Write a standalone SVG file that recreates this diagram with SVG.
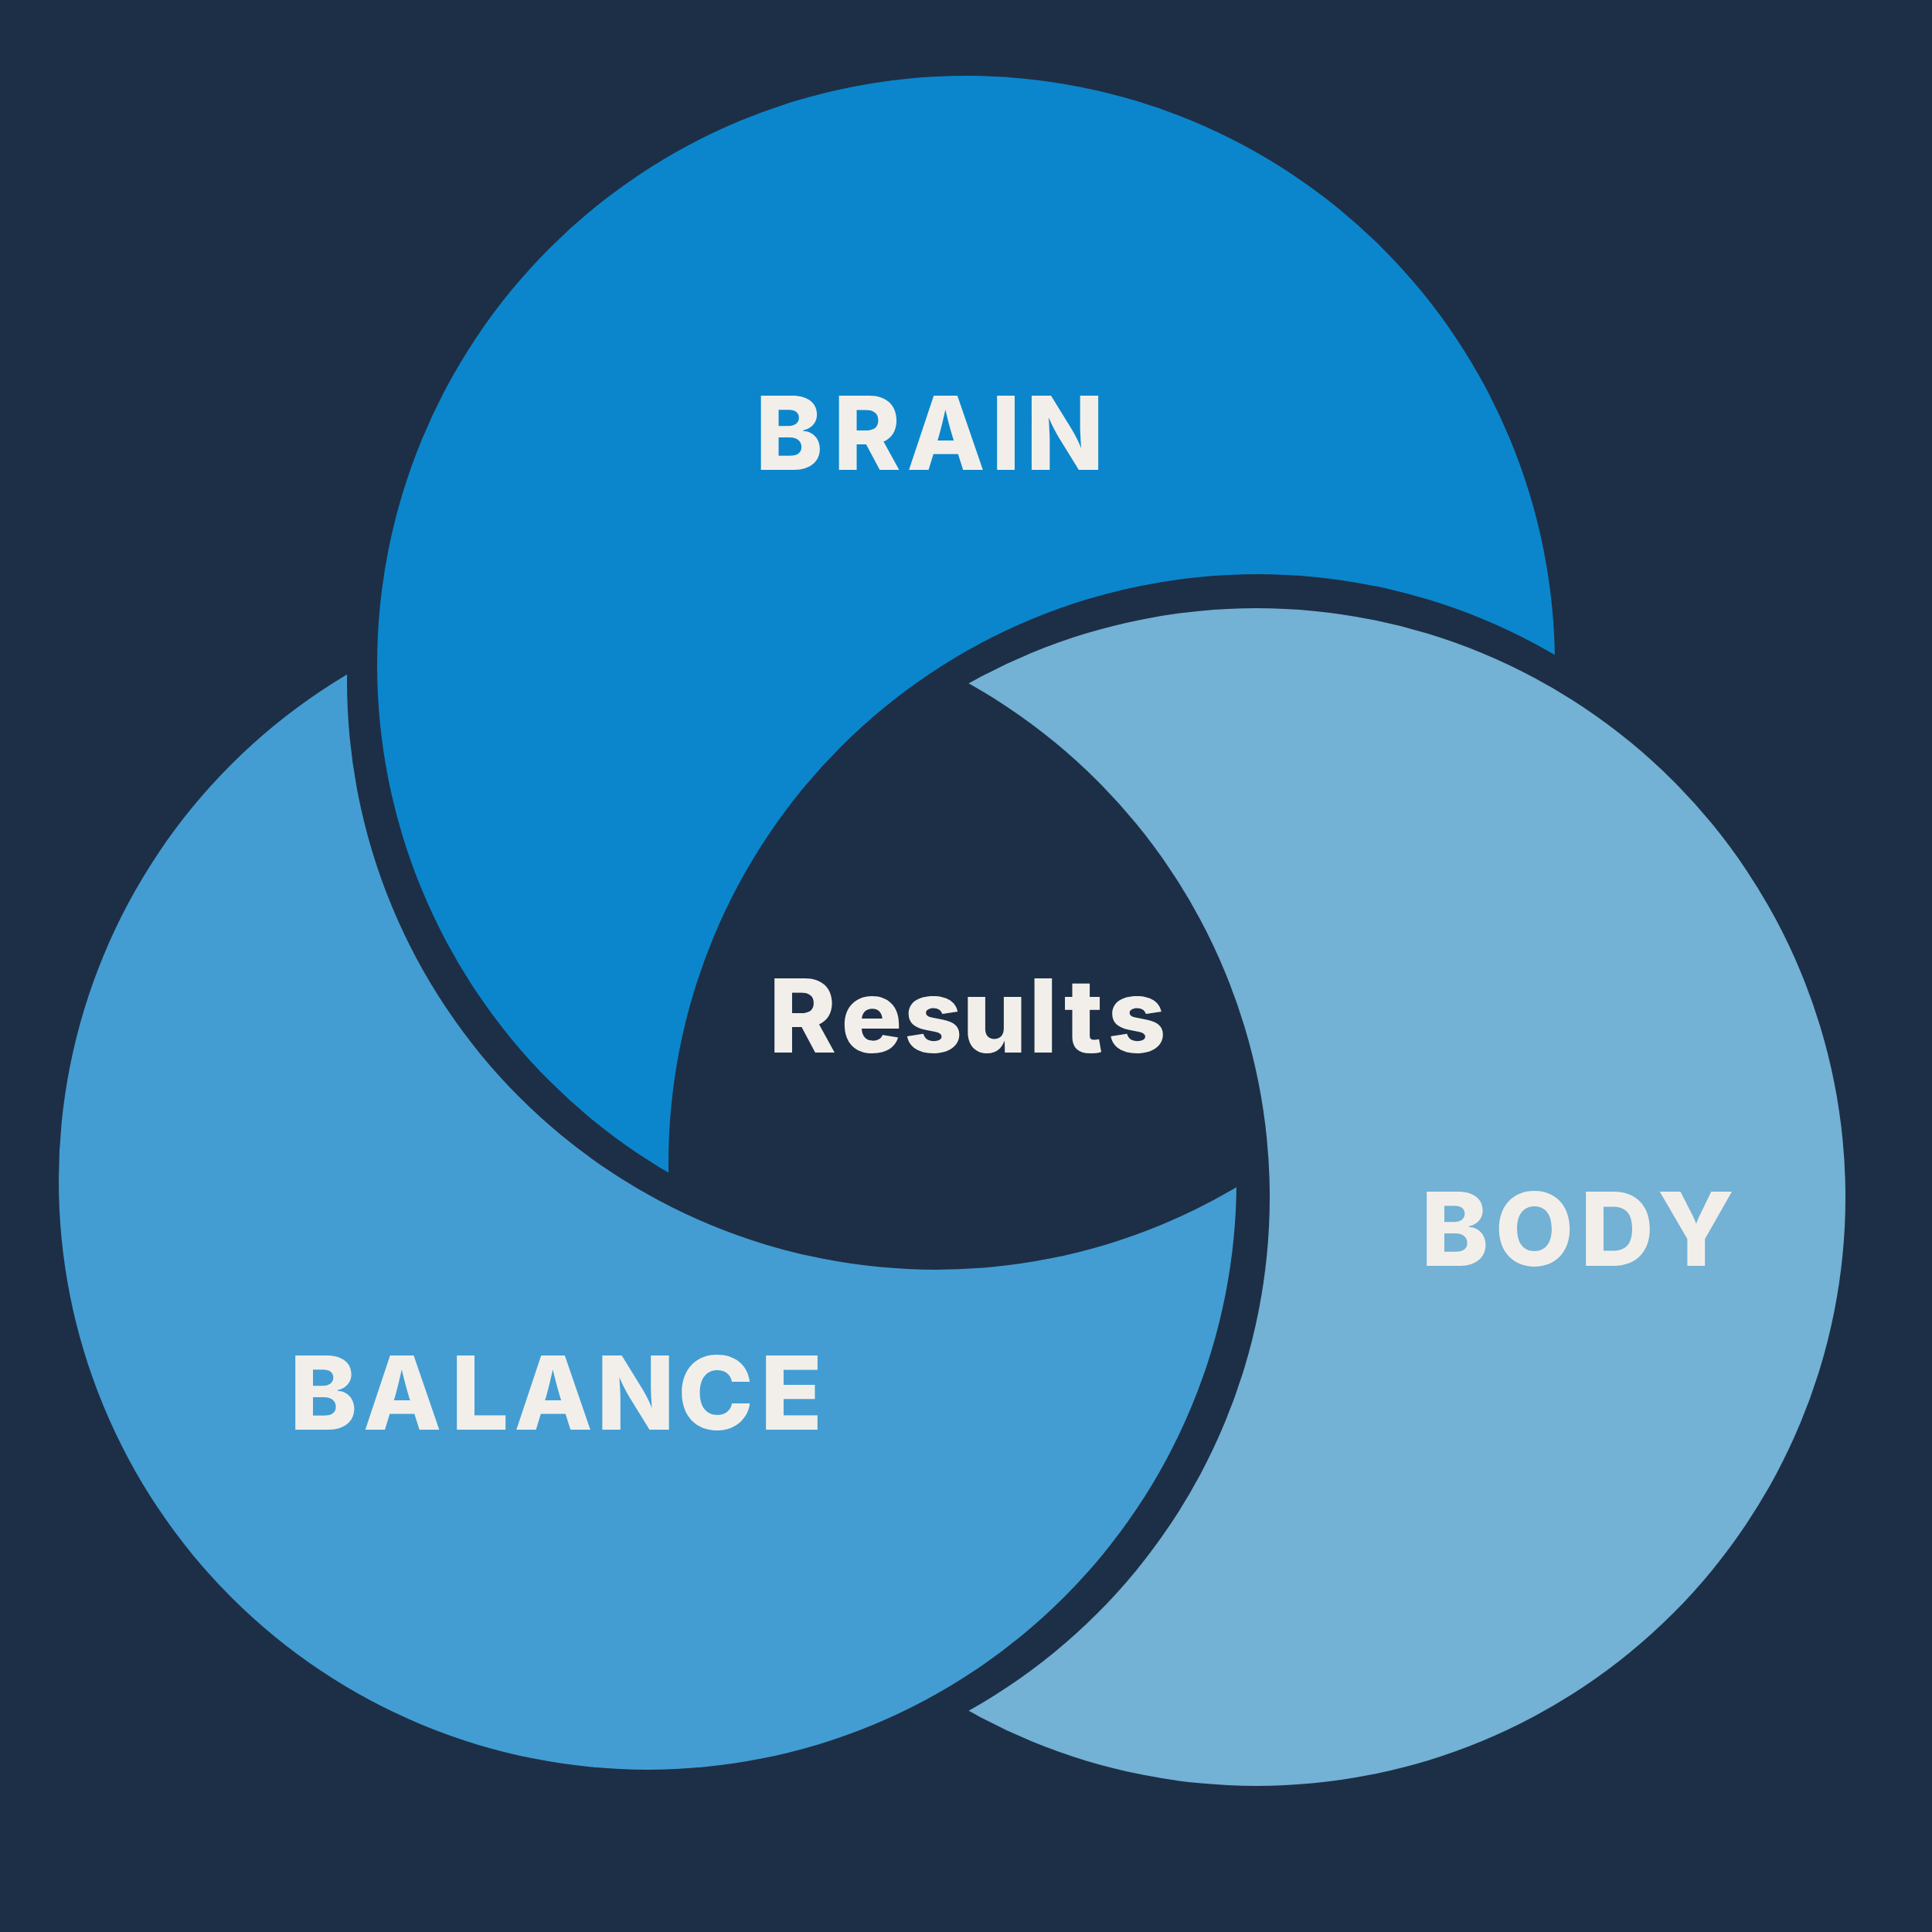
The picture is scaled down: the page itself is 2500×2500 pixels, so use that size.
<svg xmlns="http://www.w3.org/2000/svg" width="2500" height="2500" viewBox="0 0 2500 2500">
  <style>
    .lbl { font-family: Inter, "Open Sans", "Liberation Sans", sans-serif; font-weight: 800; font-size: 132px; fill: #F2EFEA; text-anchor: middle; }
  </style>
  <defs>
    <mask id="cutBrain" maskUnits="userSpaceOnUse" x="0" y="0" width="2500" height="2500">
      <rect x="0" y="0" width="2500" height="2500" fill="#fff"/>
      <circle cx="1627" cy="1505" r="762" fill="#000"/>
    </mask>
    <mask id="cutBody" maskUnits="userSpaceOnUse" x="0" y="0" width="2500" height="2500">
      <rect x="0" y="0" width="2500" height="2500" fill="#fff"/>
      <circle cx="881" cy="1549" r="762" fill="#000"/>
    </mask>
    <mask id="cutBalance" maskUnits="userSpaceOnUse" x="0" y="0" width="2500" height="2500">
      <rect x="0" y="0" width="2500" height="2500" fill="#fff"/>
      <circle cx="1211" cy="881" r="762" fill="#000"/>
    </mask>
  </defs>
  <rect x="0" y="0" width="2500" height="2500" fill="#1D2F46"/>

  <g id="brain">
    <circle cx="1250" cy="860" r="762" fill="#0B86CC" mask="url(#cutBrain)"/>
    <text class="lbl" x="1021 1122 1224 1301.5 1378" y="608">BRAIN</text>
  </g>
  <g id="body">
    <circle cx="1626" cy="1549" r="762" fill="#73B1D5" mask="url(#cutBody)"/>
    <text class="lbl" x="1882.5 1985.5 2092.5 2194.5" y="1638">BODY</text>
  </g>
  <g id="balance">
    <circle cx="838" cy="1528" r="762" fill="#439DD3" mask="url(#cutBalance)"/>
    <text class="lbl" x="418.5 520.5 621 716 822.5 926 1024" y="1850">BALANCE</text>
  </g>
  <g id="results">
    <text class="lbl" x="1038.5 1128 1207.5 1287 1350 1402 1471" y="1362">Results</text>
  </g>
  <g id="connectors"/>
</svg>
